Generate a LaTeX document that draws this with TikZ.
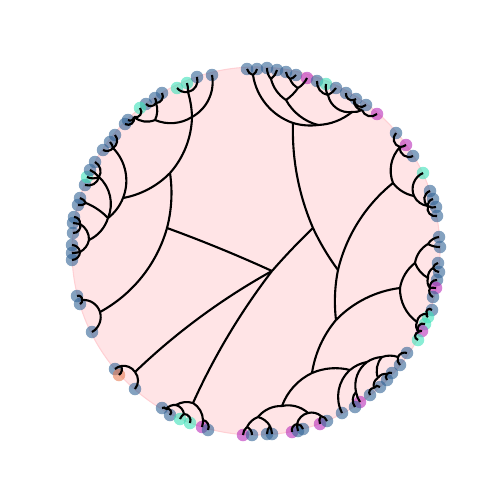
\documentclass[tikz,border=0pt]{standalone}
\usepackage{tikz}
\usetikzlibrary{calc}

\definecolor{diskpink}{RGB}{255,228,230}
\definecolor{diskrim}{RGB}{255,208,212}
\definecolor{lfblue}{RGB}{50,100,150}
\definecolor{lfteal}{RGB}{60,225,185}
\definecolor{lfpurple}{RGB}{185,45,185}
\definecolor{lforange}{RGB}{230,125,85}

% control points of the hyperbolic geodesic from (#1,#2) to (#3,#4), disk centre (#5,#6)
\newcommand\geoctrl[6]{%
  \pgfmathsetmacro\gux{(#1-#5)/104.71}%
  \pgfmathsetmacro\guy{(#2-#6)/104.71}%
  \pgfmathsetmacro\gvx{(#3-#5)/104.71}%
  \pgfmathsetmacro\gvy{(#4-#6)/104.71}%
  \pgfmathsetmacro\gbend{atan2(\gux*\gvy-\guy*\gvx,1-\gux*\gvx-\guy*\gvy)}%
  \pgfmathsetmacro\galpha{atan2(#4-#2,#3-#1)}%
  \pgfmathsetmacro\gchord{veclen(#3-#1,#4-#2)}%
  \pgfmathsetmacro\gk{(2/3)*tan(max(abs(\gbend),0.5)/2)/sin(max(abs(\gbend),0.5))*\gchord}%
  \pgfmathsetmacro\gax{#1+\gk*cos(\galpha+\gbend)}%
  \pgfmathsetmacro\gay{#2+\gk*sin(\galpha+\gbend)}%
  \pgfmathsetmacro\gbx{#3-\gk*cos(\galpha-\gbend)}%
  \pgfmathsetmacro\gby{#4-\gk*sin(\galpha-\gbend)}%
  \global\let\gax\gax \global\let\gay\gay
  \global\let\gbx\gbx \global\let\gby\gby}

\begin{document}
\begin{tikzpicture}[
    x=0.02cm, y=0.02cm,
    geo/.style={to path={
      let \p1=(\tikztostart), \p2=(\tikztotarget), \p3=(O) in
      \pgfextra{\geoctrl{\x1}{\y1}{\x2}{\y2}{\x3}{\y3}}
      .. controls (\gax pt,\gay pt) and (\gbx pt,\gby pt) .. (\tikztotarget)}},
    link/.style={geo, line width=1.2pt},
    leaf/.style={circle, inner sep=0pt, minimum size=2.5mm, fill opacity=.6},
    lb/.style={leaf, fill=lfblue},
    lt/.style={leaf, fill=lfteal},
    lp/.style={leaf, fill=lfpurple},
    lo/.style={leaf, fill=lforange},
  ]
  \useasboundingbox (0,0) rectangle (500,-500);

  \coordinate (O) at (256,-251);
  \filldraw[fill=diskpink, draw=diskrim, line width=.6pt] (O) circle (184);

  % inner nodes
  \coordinate (R) at (272,-271);
  \coordinate (A) at (313,-228);
  \coordinate (C) at (338,-270);
  \coordinate (D) at (393,-183);
  \coordinate (E) at (336,-320);
  \coordinate (F) at (400,-288);
  \coordinate (G) at (312,-373);
  \coordinate (H) at (282,-406);
  \coordinate (I) at (350,-370);
  \coordinate (L1) at (167,-228);
  \coordinate (M) at (170,-173);
  \coordinate (N) at (100,-312);
  \coordinate (P) at (123,-198);
  \coordinate (Q) at (192,-117);
  \coordinate (T) at (293,-123);
  \coordinate (B1) at (135,-372);
  \coordinate (Bc) at (193,-403);

  % hubs near the rim
  \coordinate (Ta) at (253,-75);
  \coordinate (K1) at (318,-125);
  \coordinate (K2) at (286,-100);
  \coordinate (K3) at (352,-112);
  \coordinate (K4) at (271,-79);
  \coordinate (K5) at (298,-88);
  \coordinate (K6) at (290,-79);
  \coordinate (K7) at (328,-95);
  \coordinate (K8) at (362,-110);
  \coordinate (K9) at (354,-100);
  \coordinate (Da) at (400,-147);
  \coordinate (Db) at (414,-196);
  \coordinate (Dc) at (428,-206);
  \coordinate (Fa) at (415,-263);
  \coordinate (Fb) at (428,-244);
  \coordinate (Fc) at (428,-278);
  \coordinate (Fc1) at (433,-268);
  \coordinate (Fc2) at (430,-288);
  \coordinate (Fd) at (417,-322);
  \coordinate (Fd1) at (427,-314);
  \coordinate (Fd2) at (419,-332);
  \coordinate (I2) at (367,-362);
  \coordinate (I3) at (382,-357);
  \coordinate (Ia) at (398,-357);
  \coordinate (Ib) at (378,-378);
  \coordinate (Ib1) at (387,-374);
  \coordinate (Ib2) at (374,-388);
  \coordinate (Ic) at (356,-392);
  \coordinate (Ha) at (258,-417);
  \coordinate (Hh) at (247,-427);
  \coordinate (Hb) at (270,-426);
  \coordinate (Hc) at (308,-413);
  \coordinate (Hd) at (297,-424);
  \coordinate (He) at (321,-416);
  \coordinate (Bd) at (176,-405);
  \coordinate (Bd1) at (166,-409);
  \coordinate (Be) at (184,-414);
  \coordinate (Bf) at (203,-420);
  \coordinate (Bg) at (121,-366);
  \coordinate (Na) at (82,-300);
  \coordinate (Pa) at (113,-148);
  \coordinate (Pb) at (108,-218);
  \coordinate (Pc) at (99,-177);
  \coordinate (Pd) at (86,-203);
  \coordinate (Pe) at (89,-240);
  \coordinate (Pf) at (80,-224);
  \coordinate (Pg) at (80,-252);
  \coordinate (Qb) at (188,-92);
  \coordinate (Qc) at (155,-120);
  \coordinate (Qd) at (156,-103);
  \coordinate (Qe) at (134,-117);

  % leaves
  \node[lb] (lt1) at (247,-69) {};
  \node[lb] (lt2) at (257,-69) {};
  \node[lb] (lt3) at (267,-68) {};
  \node[lb] (lt4) at (277,-70) {};
  \node[lb] (lt5) at (286,-72) {};
  \node[lb] (lt6) at (296,-75) {};
  \node[lp] (lt7) at (307,-78) {};
  \node[lb] (lt8) at (317,-81) {};
  \node[lt] (lt9) at (326,-84) {};
  \node[lb] (lt10) at (336,-88) {};
  \node[lb] (lt11) at (346,-93) {};
  \node[lb] (lt12) at (356,-99) {};
  \node[lb] (lt13) at (366,-105) {};
  \node[lp] (lt14) at (377,-114) {};

  \node[lb] (lr1) at (396,-133) {};
  \node[lp] (lr2) at (406,-145) {};
  \node[lb] (lr3) at (413,-156) {};
  \node[lt] (lr4) at (423,-173) {};
  \node[lb] (lr5) at (430,-191) {};
  \node[lb] (lr6) at (433,-199) {};
  \node[lb] (lr7) at (436,-207) {};
  \node[lb] (lr8) at (437,-216) {};
  \node[lb] (lr9) at (439,-237) {};
  \node[lb] (lr10) at (440,-247) {};
  \node[lb] (lr11) at (438,-263) {};
  \node[lb] (lr12) at (439,-272) {};
  \node[lb] (lr13) at (437,-280) {};
  \node[lp] (lr14) at (436,-288) {};
  \node[lb] (lr15) at (433,-297) {};
  \node[lb] (lr16) at (432,-310) {};
  \node[lt] (lr17) at (428,-317) {};
  \node[lt] (lr18) at (425,-324) {};
  \node[lp] (lr19) at (422,-331) {};
  \node[lt] (lr20) at (418,-340) {};

  \node[lb] (lb1) at (407,-353) {};
  \node[lb] (lb2) at (400,-365) {};
  \node[lb] (lb3) at (342,-413) {};
  \node[lp] (lb4) at (360,-402) {};
  \node[lb] (lb5) at (355,-407) {};
  \node[lb] (lb6) at (392,-373) {};
  \node[lb] (lb7) at (387,-380) {};
  \node[lb] (lb8) at (380,-387) {};
  \node[lb] (lb9) at (370,-395) {};
  \node[lp] (lb10) at (243,-435) {};
  \node[lb] (lb11) at (252,-435) {};
  \node[lb] (lb12) at (267,-434) {};
  \node[lb] (lb13) at (272,-434) {};
  \node[lp] (lb14) at (292,-432) {};
  \node[lb] (lb15) at (298,-431) {};
  \node[lb] (lb16) at (303,-429) {};
  \node[lp] (lb17) at (320,-424) {};
  \node[lb] (lb18) at (327,-421) {};
  \node[lb] (lb19) at (162,-408) {};
  \node[lb] (lb20) at (170,-415) {};
  \node[lt] (lb21) at (180,-419) {};
  \node[lt] (lb22) at (190,-423) {};
  \node[lp] (lb23) at (202,-427) {};
  \node[lb] (lb24) at (208,-430) {};
  \node[lb] (lb25) at (115,-369) {};
  \node[lo] (lb26) at (119,-375) {};
  \node[lb] (lb27) at (135,-389) {};

  \node[lb] (ll1) at (77,-296) {};
  \node[lb] (ll2) at (80,-304) {};
  \node[lb] (ll3) at (92,-332) {};
  \node[lb] (ll4) at (103,-150) {};
  \node[lb] (ll5) at (110,-142) {};
  \node[lb] (ll6) at (115,-135) {};
  \node[lb] (ll7) at (85,-185) {};
  \node[lt] (ll8) at (87,-177) {};
  \node[lb] (ll9) at (90,-170) {};
  \node[lb] (ll10) at (95,-162) {};
  \node[lb] (ll11) at (78,-205) {};
  \node[lb] (ll12) at (80,-198) {};
  \node[lb] (ll13) at (74,-217) {};
  \node[lb] (ll14) at (73,-223) {};
  \node[lb] (ll15) at (73,-233) {};
  \node[lb] (ll16) at (72,-245) {};
  \node[lb] (ll17) at (72,-253) {};
  \node[lb] (ll18) at (72,-260) {};

  \node[lb] (lu1) at (212,-75) {};
  \node[lt] (lu2) at (177,-88) {};
  \node[lt] (lu3) at (187,-83) {};
  \node[lb] (lu4) at (197,-77) {};
  \node[lb] (lu5) at (146,-104) {};
  \node[lb] (lu6) at (155,-98) {};
  \node[lb] (lu7) at (162,-93) {};
  \node[lb] (lu8) at (128,-120) {};
  \node[lt] (lu9) at (140,-108) {};
  \node[lb] (lu10) at (125,-124) {};

  % geodesic edges
  \path[link]
    (R) edge (L1) edge (A) edge (B1) edge (Bc)
    (A) edge (T) edge (C)
    (C) edge (D) edge (E)
    (E) edge (F) edge (G)
    (G) edge (H) edge (I)
    (L1) edge (M) edge (N)
    (M) edge (P) edge (Q);

  \path[link]
    (T) edge (Ta) edge (K1)
    (Ta) edge (lt1.center) edge (lt2.center)
    (K1) edge (K2) edge (K3)
    (K2) edge (K4) edge (K5)
    (K4) edge (lt3.center) edge (lt4.center)
    (K5) edge (K6) edge (lt7.center)
    (K6) edge (lt5.center) edge (lt6.center)
    (K3) edge (K7) edge (K8)
    (K7) edge (lt8.center) edge (lt9.center) edge (lt10.center)
    (K8) edge (K9) edge (lt14.center)
    (K9) edge (lt11.center) edge (lt12.center) edge (lt13.center);

  \path[link]
    (D) edge (Da) edge (Db)
    (Da) edge (lr1.center) edge (lr2.center) edge (lr3.center)
    (Db) edge (lr4.center) edge (Dc)
    (Dc) edge (lr5.center) edge (lr6.center) edge (lr7.center) edge (lr8.center)
    (F) edge (Fa) edge (Fd)
    (Fa) edge (Fb) edge (Fc)
    (Fb) edge (lr9.center) edge (lr10.center)
    (Fc) edge (Fc1) edge (Fc2)
    (Fc1) edge (lr11.center) edge (lr12.center)
    (Fc2) edge (lr13.center) edge (lr14.center) edge (lr15.center)
    (Fd) edge (Fd1) edge (Fd2)
    (Fd1) edge (lr16.center) edge (lr17.center)
    (Fd2) edge (lr18.center) edge (lr19.center) edge (lr20.center);

  \path[link]
    (I) edge (I2) edge (lb3.center)
    (I2) edge (I3) edge (Ic)
    (I3) edge (Ia) edge (Ib)
    (Ia) edge (lb1.center) edge (lb2.center)
    (Ic) edge (lb4.center) edge (lb5.center)
    (Ib) edge (Ib1) edge (Ib2)
    (Ib1) edge (lb6.center) edge (lb7.center)
    (Ib2) edge (lb8.center) edge (lb9.center)
    (H) edge (Ha) edge (Hc)
    (Ha) edge (Hh) edge (Hb)
    (Hh) edge (lb10.center) edge (lb11.center)
    (Hb) edge (lb12.center) edge (lb13.center)
    (Hc) edge (Hd) edge (He)
    (Hd) edge (lb14.center) edge (lb15.center) edge (lb16.center)
    (He) edge (lb17.center) edge (lb18.center);

  \path[link]
    (Bc) edge (Bd) edge (Bf)
    (Bd) edge (Bd1) edge (Be)
    (Bd1) edge (lb19.center) edge (lb20.center)
    (Be) edge (lb21.center) edge (lb22.center)
    (Bf) edge (lb23.center) edge (lb24.center)
    (B1) edge (Bg) edge (lb27.center)
    (Bg) edge (lb25.center) edge (lb26.center);

  \path[link]
    (N) edge (Na) edge (ll3.center)
    (Na) edge (ll1.center) edge (ll2.center)
    (P) edge (Pa) edge (Pb)
    (Pa) edge (ll4.center) edge (ll5.center) edge (ll6.center)
    (Pb) edge (Pc) edge (Pd) edge (Pe)
    (Pc) edge (ll7.center) edge (ll8.center) edge (ll9.center) edge (ll10.center)
    (Pd) edge (ll11.center) edge (ll12.center)
    (Pe) edge (Pf) edge (Pg)
    (Pf) edge (ll13.center) edge (ll14.center) edge (ll15.center)
    (Pg) edge (ll16.center) edge (ll17.center) edge (ll18.center)
    (Q) edge (lu1.center) edge (Qb) edge (Qc)
    (Qb) edge (lu2.center) edge (lu3.center) edge (lu4.center)
    (Qc) edge (Qd) edge (Qe)
    (Qd) edge (lu5.center) edge (lu6.center) edge (lu7.center)
    (Qe) edge (lu8.center) edge (lu9.center) edge (lu10.center);
\end{tikzpicture}
\end{document}
